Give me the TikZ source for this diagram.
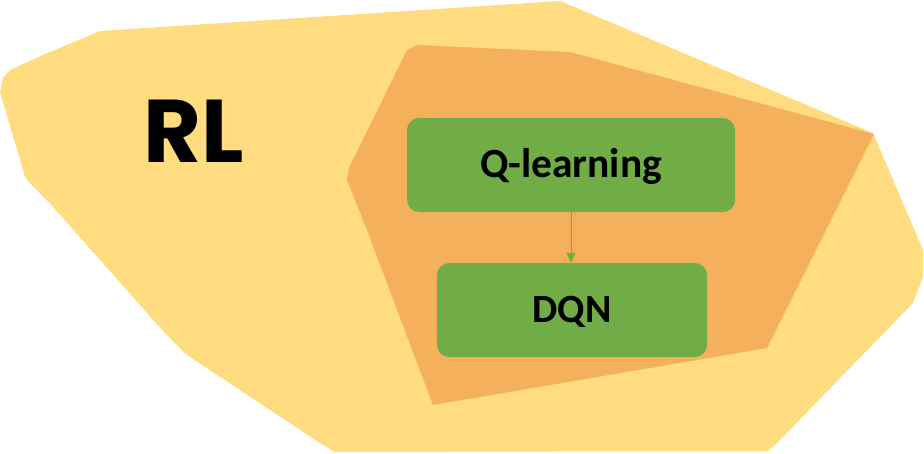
\documentclass[tikz,border=0pt]{standalone}
\usepackage{fontspec}
\setmainfont{Carlito}
\newfontfamily\rlfont{Poppins}
\usetikzlibrary{arrows.meta}
\definecolor{rlyellow}{RGB}{254,220,127}
\definecolor{qorange}{RGB}{244,176,90}
\definecolor{boxgreen}{RGB}{112,173,71}
\tikzset{
  greenbox/.style={fill=boxgreen, draw=none, rounded corners=12pt, inner sep=0pt,
    minimum height=94pt, text height=24pt, text depth=0pt,
    font=\fontsize{40}{40}\selectfont\bfseries, text=black},
  link/.style={draw=boxgreen, line width=1pt, -{Triangle[width=9pt,length=10pt]}}
}
\begin{document}
\begin{tikzpicture}[x=1pt,y=-1pt]
\useasboundingbox (0,0) rectangle (924,453);
% RL region
\fill[rlyellow] (100,31) -- (560,1) -- (873,133) -- (923,250) -- (923,277) -- (913,303)
  -- (777,443) -- (768,451) -- (335,452) -- (320,443) -- (187,355) -- (163,331)
  -- (53,207) -- (30,183) -- (25,177) -- (0,92) -- (3,78) -- (10,70) -- (43,55) -- cycle;
% Q-learning region
\fill[qorange] (417,45) -- (570,52) -- (874,134) -- (767,348) -- (433,405)
  -- (367,230) -- (347,180) -- (349,168) -- (407,50) -- cycle;
% RL label
\node[anchor=base, inner sep=0pt, font=\rlfont\bfseries\fontsize{89}{89}\selectfont] (rl) at (194,162) {RL};
% boxes
\node[greenbox, minimum width=328pt, font=\fontsize{41.5}{41.5}\selectfont\bfseries] (q) at (571,165) {Q-learning};
\node[greenbox, minimum width=270pt] (dqn) at (572,310) {DQN};
\draw[link] (q.south) -- (q.south |- dqn.north);
\end{tikzpicture}
\end{document}
